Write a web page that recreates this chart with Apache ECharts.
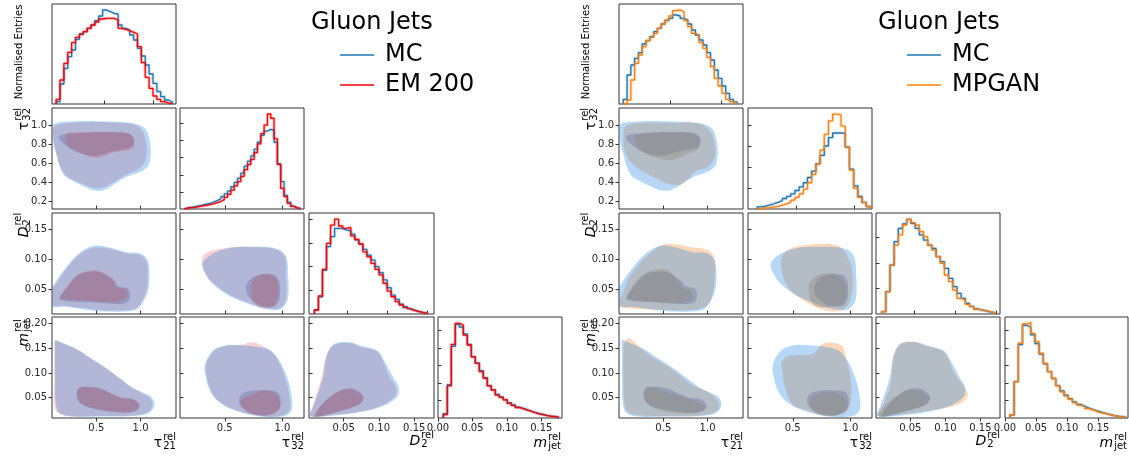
<!DOCTYPE html>
<html><head><meta charset="utf-8">
<script src="https://cdn.jsdelivr.net/npm/echarts@6/dist/echarts.min.js"></script>
<style>html,body{margin:0;padding:0;background:#fff}#c{width:1129px;height:459px}</style>
</head><body><div id="c"></div>
<script>
// ---------------- tick values ----------------
const tickT21 = [0.5, 1.0];
const tickT32x = [0.5, 1.0];
const tickT32y = [0.2, 0.4, 0.6, 0.8, 1.0];
const tickD2 = [0.05, 0.10, 0.15];
const tickM = [0.05, 0.10, 0.15, 0.20];
const tickMx = [0.00, 0.05, 0.10, 0.15];

// ---------------- histograms (bin start, bin width, heights) ----------------
const L_t21_bins = [0.0, 0.04];
const L_t21_mc = [0.035,0.30,0.535,0.71,0.81,0.97,1.05,1.085,1.135,1.185,1.25,1.32,1.41,1.385,1.36,1.35,1.185,1.135,1.11,1.035,0.96,0.835,0.72,0.585,0.45,0.31,0.185,0.11,0.06,0.03];
const L_t21_em = [0.07,0.36,0.61,0.775,0.92,1.0,1.045,1.085,1.135,1.185,1.23,1.275,1.285,1.285,1.285,1.26,1.135,1.12,1.1,1.075,1.05,0.86,0.62,0.40,0.235,0.12,0.07,0.035,0.015,0.005];
const R_t21_bins = [0.042, 0.0372];
const R_t21_mc = [0.07,0.435,0.585,0.685,0.77,0.9,0.95,1.01,1.085,1.135,1.2,1.25,1.285,1.335,1.32,1.285,1.26,1.2,1.11,1.035,0.96,0.885,0.77,0.66,0.51,0.385,0.27,0.16,0.07,0.03];
const R_t21_gan = [0.0,0.06,0.36,0.61,0.735,0.86,0.95,1.0,1.06,1.135,1.2,1.26,1.32,1.4,1.41,1.385,1.25,1.16,1.06,1.035,0.92,0.835,0.7,0.56,0.385,0.27,0.16,0.07,0.035,0.01];

const L_t32_bins = [0.15, 0.0288];
const L_t32_mc = [0.06,0.09,0.12,0.16,0.2,0.25,0.3,0.35,0.42,0.5,0.6,0.72,0.88,1.05,1.3,1.55,1.8,2.1,2.5,2.8,3.1,3.5,3.9,4.3,4.55,4.65,4.6,3.9,2.65,1.6,0.8,0.4,0.17,0.07,0.03];
const L_t32_em = [0.05,0.08,0.1,0.13,0.17,0.2,0.23,0.27,0.32,0.37,0.45,0.55,0.68,0.85,1.1,1.35,1.6,1.9,2.3,2.6,2.9,3.3,3.8,4.4,4.9,5.55,5.3,4.1,2.6,1.2,0.72,0.33,0.15,0.06,0.02];
const R_t32_bins = [0.155, 0.0366];
const R_t32_mc = [0.1,0.14,0.19,0.25,0.32,0.4,0.5,0.6,0.72,0.88,1.05,1.25,1.5,1.8,2.15,2.55,3.0,3.4,3.62,3.63,3.6,2.95,1.9,1.1,0.6,0.32,0.12];
const R_t32_gan = [0.03,0.05,0.07,0.1,0.13,0.18,0.24,0.32,0.42,0.55,0.72,0.95,1.25,1.65,2.15,2.8,3.55,4.2,4.52,4.48,3.95,2.95,1.85,0.98,0.55,0.3,0.12];

const L_d2_bins = [0.008, 0.0051];
const L_d2_mc = [0.17,0.72,1.85,2.85,3.27,3.62,3.62,3.55,3.52,3.38,3.13,2.96,2.73,2.49,2.28,2.0,1.75,1.44,1.11,0.8,0.62,0.42,0.31,0.22,0.15,0.1,0.06,0.03];
const L_d2_em = [0.17,0.76,1.89,2.99,3.76,4.01,3.72,3.62,3.66,3.3,3.15,2.96,2.63,2.42,2.14,1.89,1.65,1.3,0.97,0.73,0.52,0.38,0.27,0.2,0.14,0.1,0.06,0.03];
const R_d2_bins = [0.0099, 0.00513];
const R_d2_mc = [0.09,0.88,1.92,2.84,3.36,3.53,3.71,3.55,3.36,3.1,2.9,2.7,2.57,2.25,2.05,1.79,1.4,1.07,0.81,0.61,0.42,0.3,0.2,0.15,0.12,0.08,0.05];
const R_d2_gan = [0.09,0.88,1.92,2.7,3.1,3.49,3.71,3.58,3.49,3.23,3.03,2.7,2.51,2.25,1.99,1.53,1.27,0.94,0.61,0.55,0.38,0.29,0.18,0.16,0.13,0.09,0.05];

const L_m_bins = [0.0077, 0.0058];
const L_m_mc = [0.25,1.9,4.1,5.35,5.2,4.8,4.2,3.5,3.15,2.7,2.3,1.85,1.62,1.35,1.2,1.05,0.88,0.75,0.62,0.55,0.47,0.4,0.32,0.25,0.2,0.15,0.11,0.08,0.04];
const L_m_em = [0.2,1.83,4.21,5.41,5.31,4.74,4.17,3.5,3.12,2.65,2.27,1.83,1.6,1.31,1.18,1.03,0.84,0.72,0.6,0.53,0.46,0.38,0.3,0.23,0.19,0.13,0.1,0.08,0.04];
const R_m_bins = [0.008, 0.0067];
const R_m_mc = [0.17,2.08,4.2,5.3,5.2,4.75,4.25,3.65,3.1,2.65,2.25,1.85,1.55,1.3,1.1,0.92,0.78,0.67,0.56,0.48,0.4,0.33,0.27,0.2,0.14,0.1,0.07,0.04];
const R_m_gan = [0.17,2.08,4.27,5.37,5.45,4.84,4.36,3.7,3.12,2.65,2.27,1.83,1.5,1.26,1.07,0.88,0.74,0.65,0.53,0.46,0.36,0.3,0.25,0.19,0.13,0.1,0.06,0.04];

// ---------------- contour outlines (data coordinates) ----------------
const MC_out_21_32 = [[0.01,1.0],[0.05,1.03],[0.2,1.045],[0.4,1.05],[0.6,1.045],[0.85,1.035],[0.98,1.01],[1.06,0.96],[1.1,0.85],[1.115,0.72],[1.09,0.58],[1.0,0.51],[0.88,0.47],[0.77,0.42],[0.66,0.35],[0.55,0.31],[0.45,0.32],[0.35,0.36],[0.22,0.42],[0.14,0.47],[0.09,0.56],[0.05,0.7],[0.015,0.82]];
const MC_in_21_32 = [[0.1,0.9],[0.3,0.92],[0.6,0.93],[0.85,0.92],[0.92,0.86],[0.9,0.78],[0.8,0.75],[0.65,0.72],[0.5,0.68],[0.38,0.69],[0.25,0.73],[0.14,0.8],[0.08,0.86]];
const EM_out_21_32 = [[0.02,0.98],[0.1,1.02],[0.3,1.035],[0.5,1.04],[0.75,1.03],[0.93,1.01],[1.02,0.95],[1.06,0.83],[1.07,0.7],[1.04,0.6],[0.96,0.53],[0.86,0.49],[0.76,0.44],[0.66,0.38],[0.56,0.34],[0.47,0.34],[0.37,0.37],[0.25,0.42],[0.15,0.48],[0.09,0.57],[0.05,0.7],[0.02,0.84]];
const EM_in_21_32 = [[0.17,0.92],[0.4,0.93],[0.7,0.93],[0.88,0.91],[0.93,0.85],[0.92,0.77],[0.85,0.74],[0.7,0.72],[0.6,0.68],[0.5,0.66],[0.4,0.68],[0.28,0.73],[0.18,0.79],[0.15,0.86]];
const GAN_out_21_32 = [[0.07,0.99],[0.2,1.025],[0.58,1.03],[0.9,1.02],[1.03,0.94],[1.08,0.81],[1.08,0.67],[1.0,0.56],[0.86,0.51],[0.77,0.42],[0.68,0.37],[0.53,0.39],[0.42,0.44],[0.27,0.51],[0.143,0.6],[0.06,0.75],[0.05,0.9]];
const GAN_in_21_32 = [[0.18,0.9],[0.46,0.93],[0.83,0.92],[0.9,0.865],[0.9,0.76],[0.79,0.71],[0.6,0.635],[0.46,0.65],[0.29,0.71],[0.2,0.8]];

const MC_out_21_d2 = [[0.0,0.022],[0.0,0.05],[0.05,0.064],[0.15,0.085],[0.28,0.107],[0.43,0.121],[0.54,0.123],[0.7,0.118],[0.84,0.112],[1.0,0.11],[1.08,0.098],[1.1,0.072],[1.08,0.045],[1.0,0.022],[0.92,0.014],[0.6,0.012],[0.35,0.016],[0.15,0.02]];
const MC_in_21_d2 = [[0.08,0.034],[0.15,0.05],[0.28,0.073],[0.42,0.079],[0.56,0.077],[0.7,0.064],[0.75,0.055],[0.86,0.05],[0.88,0.036],[0.84,0.027],[0.7,0.025],[0.4,0.028],[0.15,0.03]];
const EM_out_21_d2 = [[0.0,0.024],[0.0,0.048],[0.06,0.062],[0.16,0.083],[0.28,0.104],[0.43,0.118],[0.54,0.12],[0.7,0.116],[0.84,0.11],[1.0,0.107],[1.07,0.095],[1.08,0.07],[1.06,0.045],[0.99,0.023],[0.92,0.016],[0.6,0.014],[0.35,0.018],[0.15,0.022]];
const EM_in_21_d2 = [[0.09,0.035],[0.18,0.055],[0.3,0.074],[0.43,0.081],[0.54,0.08],[0.7,0.066],[0.72,0.054],[0.84,0.049],[0.84,0.035],[0.7,0.028],[0.35,0.031],[0.11,0.033]];
const GAN_out_21_d2 = [[0.01,0.024],[0.05,0.046],[0.12,0.071],[0.27,0.099],[0.46,0.122],[0.61,0.126],[0.83,0.12],[0.98,0.117],[1.07,0.105],[1.08,0.071],[1.05,0.038],[0.98,0.021],[0.83,0.015],[0.46,0.015],[0.09,0.018]];
const GAN_in_21_d2 = [[0.09,0.038],[0.24,0.071],[0.42,0.083],[0.57,0.08],[0.72,0.052],[0.81,0.046],[0.81,0.032],[0.65,0.026],[0.31,0.029],[0.13,0.032]];

const MC_out_21_m = [[0.034,0.166],[0.09,0.163],[0.3,0.146],[0.41,0.133],[0.56,0.116],[0.77,0.089],[0.92,0.069],[1.03,0.06],[1.13,0.05],[1.155,0.032],[1.08,0.018],[0.92,0.013],[0.54,0.012],[0.17,0.013],[0.06,0.025],[0.035,0.092],[0.033,0.146]];
const MC_in_21_m = [[0.3,0.07],[0.39,0.072],[0.54,0.069],[0.77,0.051],[0.92,0.047],[0.99,0.035],[0.94,0.022],[0.77,0.02],[0.54,0.025],[0.35,0.035],[0.28,0.05]];
const EM_out_21_m = [[0.04,0.165],[0.09,0.162],[0.3,0.146],[0.41,0.132],[0.56,0.115],[0.77,0.088],[0.92,0.068],[1.03,0.058],[1.11,0.048],[1.13,0.032],[1.06,0.019],[0.92,0.014],[0.54,0.013],[0.17,0.014],[0.04,0.025],[0.025,0.092],[0.03,0.146]];
const EM_in_21_m = [[0.31,0.069],[0.4,0.071],[0.55,0.067],[0.77,0.05],[0.92,0.046],[0.98,0.035],[0.93,0.023],[0.77,0.021],[0.54,0.026],[0.36,0.036],[0.29,0.05]];
const GAN_out_21_m = [[0.068,0.163],[0.1,0.17],[0.19,0.16],[0.34,0.136],[0.56,0.112],[0.71,0.092],[0.82,0.076],[1.0,0.062],[1.11,0.045],[1.13,0.028],[1.04,0.018],[0.82,0.013],[0.44,0.013],[0.14,0.017],[0.068,0.032],[0.05,0.092],[0.05,0.146]];
const GAN_in_21_m = [[0.29,0.065],[0.38,0.071],[0.56,0.059],[0.82,0.047],[0.97,0.032],[0.93,0.022],[0.75,0.018],[0.52,0.022],[0.34,0.035],[0.29,0.048]];

const MC_out_32_d2 = [[0.31,0.094],[0.4,0.11],[0.545,0.119],[0.69,0.121],[0.95,0.118],[1.03,0.105],[1.05,0.071],[1.045,0.032],[0.98,0.016],[0.865,0.016],[0.75,0.022],[0.545,0.038],[0.4,0.058],[0.33,0.077]];
const MC_in_32_d2 = [[0.69,0.057],[0.75,0.071],[0.865,0.075],[0.95,0.071],[0.98,0.049],[0.95,0.024],[0.84,0.021],[0.75,0.029],[0.69,0.043]];
const EM_out_32_d2 = [[0.3,0.1],[0.35,0.112],[0.45,0.117],[0.545,0.12],[0.69,0.121],[0.94,0.117],[1.02,0.104],[1.03,0.071],[1.03,0.033],[0.97,0.018],[0.865,0.018],[0.75,0.024],[0.545,0.04],[0.4,0.06],[0.327,0.077]];
const EM_in_32_d2 = [[0.735,0.062],[0.78,0.071],[0.88,0.076],[0.95,0.066],[0.965,0.043],[0.92,0.021],[0.81,0.02],[0.735,0.032],[0.735,0.052]];
const GAN_out_32_d2 = [[0.4,0.1],[0.46,0.116],[0.55,0.122],[0.73,0.126],[0.9,0.122],[0.99,0.099],[1.02,0.071],[1.0,0.032],[0.93,0.015],[0.79,0.014],[0.6,0.03],[0.47,0.05],[0.41,0.075]];
const GAN_in_32_d2 = [[0.645,0.06],[0.73,0.074],[0.88,0.074],[0.96,0.054],[0.95,0.029],[0.85,0.021],[0.7,0.021],[0.645,0.038]];

const MC_out_32_m = [[0.327,0.116],[0.4,0.146],[0.515,0.156],[0.63,0.156],[0.865,0.149],[0.95,0.133],[1.04,0.092],[1.08,0.052],[1.08,0.025],[1.02,0.013],[0.81,0.012],[0.58,0.025],[0.43,0.045],[0.37,0.065],[0.335,0.092]];
const MC_in_32_m = [[0.63,0.052],[0.69,0.062],[0.865,0.065],[0.965,0.059],[0.98,0.032],[0.89,0.015],[0.75,0.017],[0.64,0.032]];
const EM_out_32_m = [[0.34,0.118],[0.41,0.145],[0.52,0.155],[0.65,0.157],[0.72,0.162],[0.78,0.16],[0.865,0.15],[0.94,0.133],[1.02,0.092],[1.06,0.052],[1.06,0.025],[1.0,0.014],[0.81,0.013],[0.58,0.026],[0.44,0.045],[0.38,0.065],[0.345,0.092]];
const EM_in_32_m = [[0.64,0.045],[0.75,0.058],[0.865,0.065],[0.965,0.051],[0.97,0.025],[0.865,0.015],[0.72,0.018],[0.65,0.032]];
const GAN_out_32_m = [[0.402,0.119],[0.45,0.133],[0.56,0.136],[0.68,0.139],[0.77,0.16],[0.92,0.156],[0.96,0.13],[1.0,0.092],[1.0,0.039],[0.94,0.018],[0.76,0.015],[0.6,0.026],[0.5,0.036],[0.43,0.072],[0.41,0.106]];
const GAN_in_32_m = [[0.65,0.045],[0.74,0.059],[0.88,0.059],[0.97,0.042],[0.97,0.025],[0.88,0.015],[0.74,0.015],[0.66,0.028]];

const MC_out_d2_m = [[0.002,0.015],[0.007,0.032],[0.021,0.092],[0.026,0.133],[0.036,0.158],[0.06,0.162],[0.074,0.155],[0.098,0.145],[0.107,0.126],[0.12,0.092],[0.128,0.072],[0.126,0.052],[0.104,0.032],[0.074,0.021],[0.036,0.014],[0.007,0.011]];
const MC_in_d2_m = [[0.009,0.013],[0.021,0.039],[0.045,0.065],[0.064,0.068],[0.078,0.053],[0.074,0.038],[0.05,0.025],[0.016,0.012]];
const EM_out_d2_m = [[0.002,0.015],[0.006,0.032],[0.019,0.092],[0.025,0.133],[0.036,0.156],[0.06,0.16],[0.074,0.153],[0.098,0.143],[0.105,0.126],[0.115,0.092],[0.124,0.072],[0.122,0.052],[0.1,0.032],[0.074,0.022],[0.036,0.015],[0.007,0.012]];
const EM_in_d2_m = [[0.009,0.013],[0.021,0.039],[0.045,0.064],[0.063,0.066],[0.077,0.053],[0.073,0.039],[0.05,0.025],[0.016,0.012]];
const GAN_out_d2_m = [[0.003,0.015],[0.012,0.039],[0.022,0.079],[0.026,0.133],[0.036,0.16],[0.055,0.163],[0.07,0.156],[0.094,0.146],[0.103,0.133],[0.113,0.099],[0.127,0.072],[0.132,0.055],[0.122,0.039],[0.094,0.028],[0.047,0.018],[0.008,0.012]];
const GAN_in_d2_m = [[0.005,0.015],[0.017,0.039],[0.036,0.059],[0.05,0.067],[0.07,0.059],[0.077,0.049],[0.07,0.035],[0.031,0.019],[0.008,0.012]];

// ---------------- layout & style ----------------
const FONT = 'DejaVu Sans';
const C_MC = '#1f77b4', C_EM = '#ff0000', C_GAN = '#ff7f0e';
const plots = [
  { name: 'EM 200', color: C_EM, band: 'rgba(255,0,0,0.22)', colX: [52, 180, 309, 438], colW: [124, 124, 125, 124],
    fill: { mOut: 'rgba(235,110,120,0.32)', mIn: 'rgba(185,95,105,0.38)' },
    hist: { t21: [L_t21_bins, L_t21_mc, L_t21_em], t32: [L_t32_bins, L_t32_mc, L_t32_em], d2: [L_d2_bins, L_d2_mc, L_d2_em], m: [L_m_bins, L_m_mc, L_m_em] },
    diagX: { t21: [-0.043, 1.238], t32: [0.112, 1.187], d2: [0.0012, 0.159], m: [0, 0.18] },
    diagY: { t21: [1.5, []], t32: [5.9, [1,2,3,4,5]], d2: [4.27, [1,2,3,4]], m: [5.77, [1,2,3,4,5]] },
    model: { '21_32': [EM_out_21_32, EM_in_21_32], '21_d2': [EM_out_21_d2, EM_in_21_d2], '21_m': [EM_out_21_m, EM_in_21_m], '32_d2': [EM_out_32_d2, EM_in_32_d2], '32_m': [EM_out_32_m, EM_in_32_m], 'd2_m': [EM_out_d2_m, EM_in_d2_m] } },
  { name: 'MPGAN', color: C_GAN, band: 'rgba(255,127,14,0.22)', colX: [619, 748, 876, 1005], colW: [124, 124, 124, 123],
    fill: { mOut: 'rgba(245,130,40,0.32)', mIn: 'rgba(140,137,110,0.36)' },
    hist: { t21: [R_t21_bins, R_t21_mc, R_t21_gan], t32: [R_t32_bins, R_t32_mc, R_t32_gan], d2: [R_d2_bins, R_d2_mc, R_d2_gan], m: [R_m_bins, R_m_mc, R_m_gan] },
    diagX: { t21: [0, 1.216], t32: [0.075, 1.157], d2: [0.003, 0.155], m: [0, 0.198] },
    diagY: { t21: [1.5, []], t32: [4.81, [1,2,3,4]], d2: [3.96, [1,2,3]], m: [5.77, [1,2,3,4,5]] },
    model: { '21_32': [GAN_out_21_32, GAN_in_21_32], '21_d2': [GAN_out_21_d2, GAN_in_21_d2], '21_m': [GAN_out_21_m, GAN_in_21_m], '32_d2': [GAN_out_32_d2, GAN_in_32_d2], '32_m': [GAN_out_32_m, GAN_in_32_m], 'd2_m': [GAN_out_d2_m, GAN_in_d2_m] } }
];
const MC2D = { '21_32': [MC_out_21_32, MC_in_21_32], '21_d2': [MC_out_21_d2, MC_in_21_d2], '21_m': [MC_out_21_m, MC_in_21_m], '32_d2': [MC_out_32_d2, MC_in_32_d2], '32_m': [MC_out_32_m, MC_in_32_m], 'd2_m': [MC_out_d2_m, MC_in_d2_m] };
const MC_FILL = { out: 'rgba(12,126,226,0.3)', in: 'rgba(82,89,153,0.3)' };
const MC_BAND = 'rgba(31,119,180,0.22)';
const rowY = [4, 108, 213, 317], rowH = [100, 101, 101, 101];
const VARS = ['t21', 't32', 'd2', 'm'];
const KEY = { t21: '21', t32: '32', d2: 'd2', m: 'm' };
const X2D = { t21: [0, 1.4, tickT21, 1], t32: [0.112, 1.187, tickT32x, 1], d2: [0.001, 0.178, tickD2, 2] };
const Y2D = { t32: [0.115, 1.188, tickT32y, 1], d2: [0.008, 0.178, tickD2, 2], m: [0.009, 0.213, tickM, 2] };
const DIAGXT = { t21: [tickT21, 1], t32: [tickT32x, 1], d2: [tickD2, 2], m: [tickMx, 2] };

function stepLine(bins, vals) {
  const s = bins[0], w = bins[1], pts = [[s, 0]];
  vals.forEach((v, i) => { pts.push([s + i * w, v]); pts.push([s + (i + 1) * w, v]); });
  pts.push([s + vals.length * w, 0]);
  return pts;
}
function axis(gi, min, max, ticks, dec, labeled, inside) {
  return {
    type: 'value', gridIndex: gi, min: min, max: max, scale: true,
    axisLine: { show: false }, splitLine: { show: false },
    axisTick: { show: ticks.length > 0, customValues: ticks, inside: inside, length: 3.5, lineStyle: { color: '#333', width: 1 } },
    axisLabel: { show: labeled, customValues: ticks, fontFamily: FONT, fontSize: 10, color: '#262626', margin: 5,
      formatter: v => v.toFixed(dec) }
  };
}
function polySeries(gi, pts, fill, z) {
  return {
    type: 'custom', xAxisIndex: gi, yAxisIndex: gi, data: pts, clip: true, z: z, silent: true,
    encode: { x: 0, y: 1 },
    renderItem: function (params, api) {
      if (params.dataIndex !== 0) return null;
      const p = pts.map(d => api.coord(d));
      return { type: 'polygon', shape: { points: p, smooth: 0.35 }, style: { fill: fill, stroke: null } };
    }
  };
}
function histSeries(gi, pts, color, width, z) {
  return { type: 'line', xAxisIndex: gi, yAxisIndex: gi, data: pts, showSymbol: false, symbol: 'none', clip: true, z: z,
    silent: true, lineStyle: { color: color, width: width } };
}

const grids = [], xAxes = [], yAxes = [], series = [];
plots.forEach(pl => {
  for (let r = 0; r < 4; r++) {
    for (let c = 0; c <= r; c++) {
      const gi = grids.length;
      grids.push({ left: pl.colX[c], top: rowY[r], width: pl.colW[c], height: rowH[r], show: true, borderColor: '#333', borderWidth: 1, containLabel: false });
      const vx = VARS[c], vy = VARS[r];
      if (r === c) {
        const dx = pl.diagX[vx], dy = pl.diagY[vx], dt = DIAGXT[vx];
        xAxes.push(axis(gi, dx[0], dx[1], dt[0], dt[1], r === 3, r !== 3));
        yAxes.push(axis(gi, 0, dy[0], dy[1], 0, false, true));
        const h = pl.hist[vx];
        const mcPts = stepLine(h[0], h[1]), mdPts = stepLine(h[0], h[2]);
        series.push(histSeries(gi, mcPts, MC_BAND, 3.2, 2));
        series.push(histSeries(gi, mdPts, pl.band, 3.2, 2));
        series.push(histSeries(gi, mcPts, C_MC, 1.3, 3));
        series.push(histSeries(gi, mdPts, pl.color, 1.3, 4));
      } else {
        const ax = X2D[vx], ay = Y2D[vy];
        xAxes.push(axis(gi, ax[0], ax[1], ax[2], ax[3], r === 3, r !== 3));
        yAxes.push(axis(gi, ay[0], ay[1], ay[2], ay[3], c === 0, c !== 0));
        const k = KEY[vx] + '_' + KEY[vy];
        series.push(polySeries(gi, pl.model[k][0], pl.fill.mOut, 2));
        series.push(polySeries(gi, MC2D[k][0], MC_FILL.out, 3));
        series.push(polySeries(gi, MC2D[k][1], MC_FILL.in, 4));
        series.push(polySeries(gi, pl.model[k][1], pl.fill.mIn, 5));
      }
    }
  }
});

// ---------------- text elements ----------------
const cv = document.createElement('canvas').getContext('2d');
function tw(t, size, italic) { cv.font = (italic ? 'italic ' : '') + size + 'px "' + FONT + '"'; return cv.measureText(t).width; }
function mathLabel(x, y, main, sup, sub, rotated, italic) {
  const MS = 14, SS = 10;
  const wM = tw(main, MS, italic), wS = Math.max(tw(sup, SS), tw(sub, SS));
  const W = wM + 1 + wS;
  const x0 = rotated ? -W / 2 : -W;
  return {
    type: 'group', x: x, y: y, rotation: rotated ? Math.PI / 2 : 0, silent: true,
    children: [
      { type: 'text', x: x0, y: 0, style: { text: main, font: (italic ? 'italic ' : '') + MS + 'px "' + FONT + '"', fill: '#000', textAlign: 'left', textVerticalAlign: 'middle' } },
      { type: 'text', x: x0 + wM + 1, y: -6, style: { text: sup, font: SS + 'px "' + FONT + '"', fill: '#000', textAlign: 'left', textVerticalAlign: 'middle' } },
      { type: 'text', x: x0 + wM + 1, y: 3, style: { text: sub, font: SS + 'px "' + FONT + '"', fill: '#000', textAlign: 'left', textVerticalAlign: 'middle' } }
    ]
  };
}
const graphics = [];
plots.forEach((pl, i) => {
  const off = pl.colX[0] - 52;
  graphics.push({ type: 'text', x: pl.colX[0] - 33, y: 52, rotation: Math.PI / 2, silent: true,
    style: { text: 'Normalised Entries', font: '10px "' + FONT + '"', fill: '#000', textAlign: 'center', textVerticalAlign: 'middle' } });
  graphics.push(mathLabel(off + 24, 119, 'τ', 'rel', '32', true, false));
  graphics.push(mathLabel(off + 24, 225, 'D', 'rel', '2', true, true));
  graphics.push(mathLabel(off + 24, 333, 'm', 'rel', 'jet', true, true));
  graphics.push(mathLabel(pl.colX[0] + pl.colW[0], 443, 'τ', 'rel', '21', false, false));
  graphics.push(mathLabel(pl.colX[1] + pl.colW[1], 443, 'τ', 'rel', '32', false, false));
  graphics.push(mathLabel(pl.colX[2] + pl.colW[2], 441, 'D', 'rel', '2', false, true));
  graphics.push(mathLabel(pl.colX[3] + pl.colW[3] - 1, 443, 'm', 'rel', 'jet', false, true));
  graphics.push({ type: 'text', x: off + 311, y: 23, silent: true, style: { text: 'Gluon Jets', font: '24px "' + FONT + '"', fill: '#000', textAlign: 'left', textVerticalAlign: 'middle' } });
  graphics.push({ type: 'line', silent: true, shape: { x1: off + 340, y1: 55, x2: off + 374, y2: 55 }, style: { stroke: C_MC, lineWidth: 1.5 } });
  graphics.push({ type: 'text', x: off + 385, y: 55, silent: true, style: { text: 'MC', font: '24px "' + FONT + '"', fill: '#000', textAlign: 'left', textVerticalAlign: 'middle' } });
  graphics.push({ type: 'line', silent: true, shape: { x1: off + 340, y1: 85, x2: off + 374, y2: 85 }, style: { stroke: pl.color, lineWidth: 1.5 } });
  graphics.push({ type: 'text', x: off + 385, y: 85, silent: true, style: { text: pl.name, font: '24px "' + FONT + '"', fill: '#000', textAlign: 'left', textVerticalAlign: 'middle' } });
});

const chart = echarts.init(document.getElementById('c'), null, { renderer: 'canvas', width: 1129, height: 459 });
chart.setOption({
  animation: false, backgroundColor: '#fff',
  grid: grids, xAxis: xAxes, yAxis: yAxes, series: series, graphic: graphics
});
</script></body></html>
